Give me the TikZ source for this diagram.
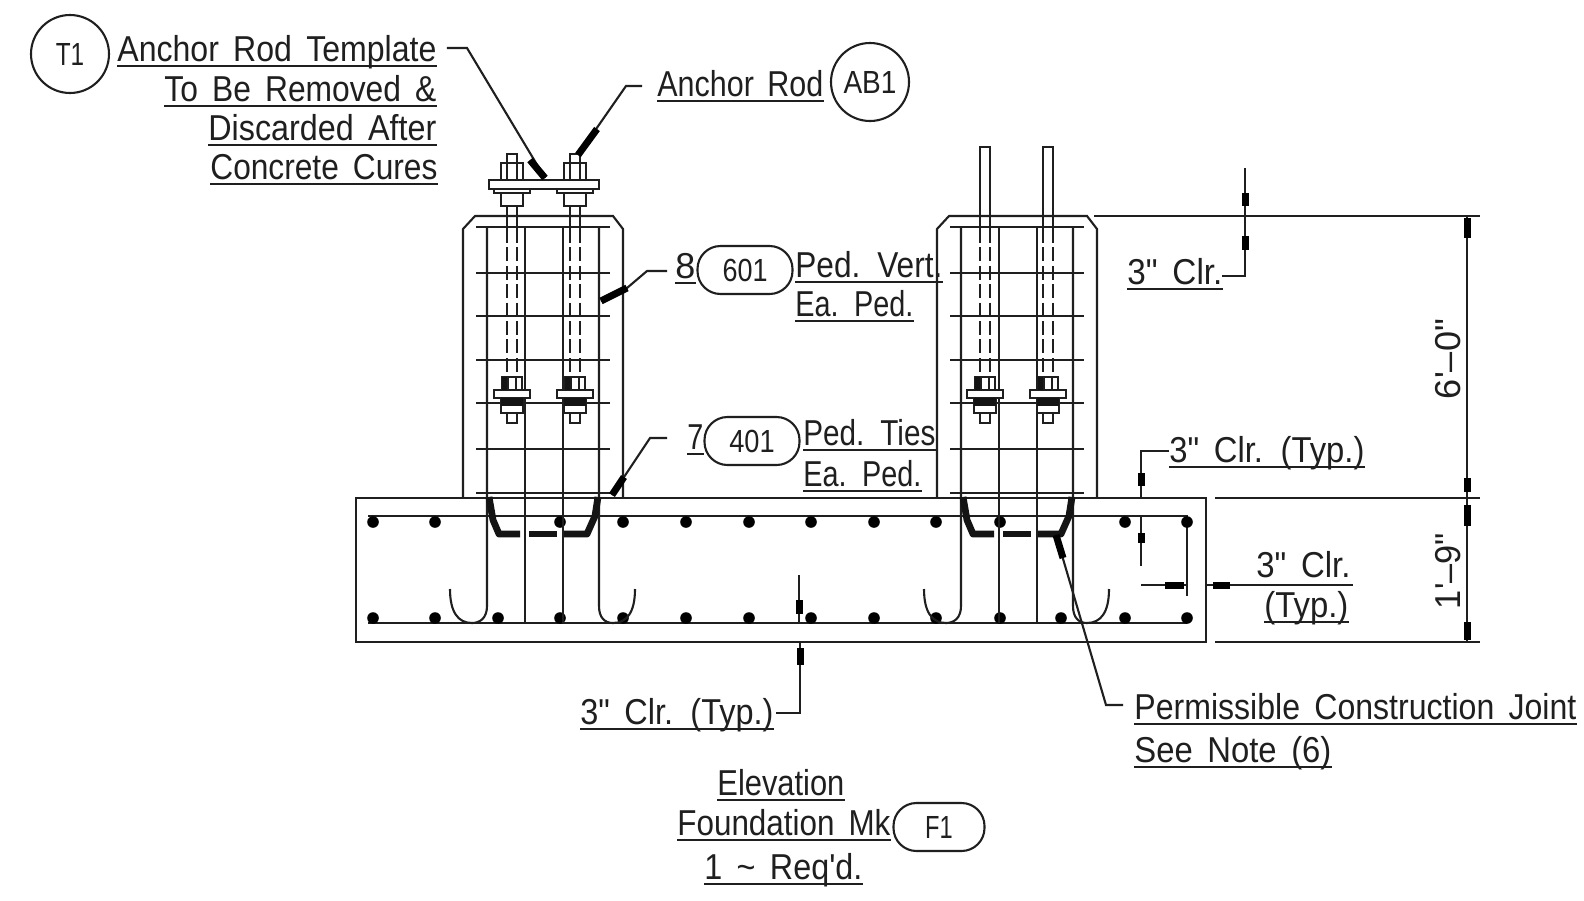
\documentclass[tikz,border=0pt]{standalone}
\usepackage{fontspec}
\newfontfamily\cadfont[WordSpace=1.6]{Liberation Sans}
\newcommand{\lab}[5]{%
  \node[cadtext] (#1) at (#2,#3) {\resizebox{\dimexpr#4pt/2\relax}{\height}{#5}};
  \draw[thin line] ([yshift=-2.6pt]#1.base west) -- ([yshift=-2.6pt]#1.base east);}
\newcommand{\fit}[2]{\resizebox{#1pt}{\height}{#2}}
\newcommand{\rodlower}[1]{%
  \draw[thin line,fill=white] (#1-5,413) rectangle (#1+5,423);
  \draw[thin line,fill=white] (#1-11,398) rectangle (#1+11,413);
  \draw[thin line,fill=white] (#1-10,377) rectangle (#1+10,390);
  \draw[thin line,fill=white] (#1-18,390) rectangle (#1+18,398);
  \fill[black!92] (#1-11,398) rectangle (#1+11,406);
  \fill[black!92] (#1-10,377) rectangle (#1-3,390);
  \draw[thin line] (#1-4,377) -- (#1-4,390) (#1+4,377) -- (#1+4,390);}
\newcommand{\rodupper}[1]{%
  \draw[thin line] (#1-5,206) -- (#1-5,229) (#1+5,206) -- (#1+5,229);
  \draw[thin line,fill=white] (#1-11,193) rectangle (#1+11,206);
  \draw[thin line,fill=white] (#1-18,189) rectangle (#1+18,193);
  \draw[thin line,fill=white] (#1-5,154) rectangle (#1+5,163);
  \draw[thin line,fill=white] (#1-11,163) rectangle (#1+11,180);
  \draw[thin line] (#1-5,163) -- (#1-5,180) (#1+5,163) -- (#1+5,180);}
\newcommand{\rodshaft}[1]{%
  \draw[thin line,dash pattern=on 7pt off 2.2pt] (#1-5,229) -- (#1-5,377) (#1+5,229) -- (#1+5,377);}
\newcommand{\pedestal}{%
  \draw[thin line] (463,498) -- (463,229) -- (475,216) -- (613,216) -- (623,229) -- (623,498);
  \foreach \ty in {227,273,316,360,403,449,493}{\draw[thin line] (476,\ty) -- (610,\ty);}
  \draw[thin line] (487,227) -- (487,606) .. controls (487,618) and (480,623) .. (472,623)
     .. controls (458,623) and (450,612) .. (450,589);
  \draw[thin line] (525,227) -- (525,623);
  \draw[thin line] (563,227) -- (563,623);
  \draw[thin line] (599,227) -- (599,606) .. controls (599,618) and (605,623) .. (613,623)
     .. controls (627,623) and (635,612) .. (635,589);
  \draw[heavy line] (489,497) -- (493,520) -- (499,534) -- (520,534);
  \draw[heavy line] (529,534) -- (557,534);
  \draw[heavy line] (564,534) -- (587,534) -- (595,516) -- (598,497);}
\tikzset{
  thin line/.style={line width=1.05pt,draw=black!88},
  heavy line/.style={line width=3.4pt,line join=round,draw=black!92},
  tick line/.style={line width=3.5pt,draw=black},
  cadtext/.style={anchor=base west,inner sep=0pt,font=\cadfont\fontsize{18}{20}\selectfont,text=black!88},
  bubble/.style={draw=black!88,line width=1.05pt,circle,minimum size=39pt,inner sep=0pt,font=\cadfont\fontsize{16}{20}\selectfont,text=black!88},
  pill/.style={draw=black!88,line width=1.05pt,rounded corners=11.5pt,minimum width=47.5pt,minimum height=24pt,inner sep=0pt,font=\cadfont\fontsize{16}{20}\selectfont,text=black!88},
  rebar dot/.style={fill=black,circle,minimum size=5.8pt,inner sep=0pt}
}
\begin{document}
\begin{tikzpicture}[x=0.5pt,y=-0.5pt]
\useasboundingbox (0,0) rectangle (1584,900);
\fill[white] (0,0) rectangle (1584,900);

% footing
\draw[thin line] (356,498) rectangle (1206,642);
\draw[thin line] (368,516) -- (1187,516) -- (1187,596);
\draw[thin line] (368,623) -- (1187,623);
\foreach \dx in {373,435,623,686,749,811,874,936,1000,1125,1187}{\node[rebar dot] at (\dx,522) {};}
\node[rebar dot] at (560,522) {};
\foreach \dx in {373,435,498,560,623,686,749,811,874,936,1000,1061,1125,1187}{\node[rebar dot] at (\dx,618) {};}

% pedestals
\pedestal
\begin{scope}[shift={(474,0)}]\pedestal\end{scope}

% rods, left pedestal
\rodshaft{512}\rodshaft{575}
\rodlower{512}\rodlower{575}
\rodupper{512}\rodupper{575}
\draw[thin line,fill=white] (489,180) rectangle (599,189);
% rods, right pedestal
\rodshaft{985}\rodshaft{1048}
\rodlower{985}\rodlower{1048}
\foreach \cx in {985,1048}{\draw[thin line] (\cx-5,229) -- (\cx-5,147) -- (\cx+5,147) -- (\cx+5,229);}

% labels top left
\node[bubble] (t1) at (70,54) {\fit{14.2}{T1}};
\lab{la}{117}{61}{319}{Anchor Rod Template}
\lab{lb}{164}{101}{272}{To Be Removed \&}
\lab{lc}{208}{140}{228}{Discarded After}
\lab{ld}{210}{179}{227}{Concrete Cures}
\coordinate (tplate) at (545,178);
\coordinate (tbend) at (467,48);
\draw[thin line] ([xshift=5pt]la.east |- 0,48) -- (tbend) -- (tplate);
\draw[tick line] (530,160) -- (tplate);

% anchor rod
\lab{ar}{657}{96}{166}{Anchor Rod}
\node[bubble] (ab1) at (870,82) {\fit{26.5}{AB1}};
\coordinate (arbend) at (626,86);
\coordinate (artip) at (578,155);
\draw[thin line] (642,86) -- (arbend) -- (artip);
\draw[tick line] (597,129) -- (artip);

% 8 601
\lab{e8}{675}{278}{20}{8}
\node[pill] (p601) at (745,270) {\fit{22.5}{601}};
\lab{pv}{795}{277}{147}{Ped. Vert.}
\lab{pe}{795}{316}{118}{Ea. Ped.}
\coordinate (l8b) at (647,271);
\coordinate (l8c) at (627,288);
\coordinate (l8d) at (601,301);
\draw[thin line] (667,271) -- (l8b) -- (l8c) -- (l8d);
\draw[tick line] (l8c) -- (l8d);

% 7 401
\lab{e7}{687}{449}{16}{7}
\node[pill] (p401) at (752,441) {\fit{22.7}{401}};
\lab{pt}{803}{445}{132}{Ped. Ties}
\lab{pf}{803}{486}{118}{Ea. Ped.}
\coordinate (l7b) at (650,438);
\coordinate (l7c) at (612,495);
\draw[thin line] (667,438) -- (l7b) -- (l7c);
\draw[tick line] (624,477) -- (l7c);

% 3 in clr top right
\draw[thin line] (1094,216) -- (1480,216);
\draw[thin line] (1215,498) -- (1480,498);
\draw[thin line] (1215,642) -- (1480,642);
\draw[thin line] (1245,168) -- (1245,216);
\draw[tick line] (1245,193) -- (1245,206);
\draw[thin line] (1245,216) -- (1245,276) -- (1222,276);
\draw[tick line] (1245,236) -- (1245,250);
\lab{c3}{1127}{284}{95}{3" Clr.}

% overall dims
\draw[thin line] (1467,216) -- (1467,642);
\foreach \a/\b in {218/238,478/492,505/526,622/640}{\draw[tick line] (1467,\a) -- (1467,\b);}
\node[cadtext,anchor=base,rotate=90] (d6) at (1460,359) {\resizebox{40pt}{\height}{6'–0"}};
\node[cadtext,anchor=base,rotate=90] (d1) at (1460,571) {\resizebox{38pt}{\height}{1'–9"}};

% 3 in clr typ right
\lab{c4}{1169}{462}{195}{3" Clr. (Typ.)}
\draw[thin line] (1169,451) -- (1141,451) -- (1141,498);
\draw[tick line] (1141,473) -- (1141,486);
\draw[thin line] (1141,516) -- (1141,566);
\draw[tick line] (1141,533) -- (1141,543);
\draw[thin line] (1141,585) -- (1187,585);
\draw[tick line] (1165,585) -- (1184,585);
\draw[thin line] (1206,585) -- (1353,585);
\draw[tick line] (1213,585) -- (1230,585);
\node[cadtext] (c5) at (1256,577) {\resizebox{47pt}{\height}{3" Clr.}};
\lab{c6}{1264}{617}{84}{(Typ.)}

% 3 in clr bottom
\lab{c7}{580}{724}{193}{3" Clr. (Typ.)}
\draw[thin line] (776,713) -- (800,713) -- (800,642);
\draw[tick line] (800,648) -- (800,665);
\draw[thin line] (799,575) -- (799,623);
\draw[tick line] (799,600) -- (799,614);

% construction joint
\lab{j1}{1134}{719}{442}{Permissible Construction Joint}
\lab{j2}{1134}{762}{197}{See Note (6)}
\coordinate (jtip) at (1056,535);
\coordinate (jbend) at (1106,705);
\draw[thin line] (jtip) -- (jbend) -- (1123,705);
\draw[tick line] (jtip) -- (1063,558);

% title
\lab{g1}{717}{795}{127}{Elevation}
\lab{g2}{677}{835}{213}{Foundation Mk}
\node[pill,minimum width=45.5pt] (pf1) at (939,827) {\fit{13.8}{F1}};
\lab{g3}{704}{879}{158}{1 \textasciitilde\ Req'd.}
\end{tikzpicture}
\end{document}
